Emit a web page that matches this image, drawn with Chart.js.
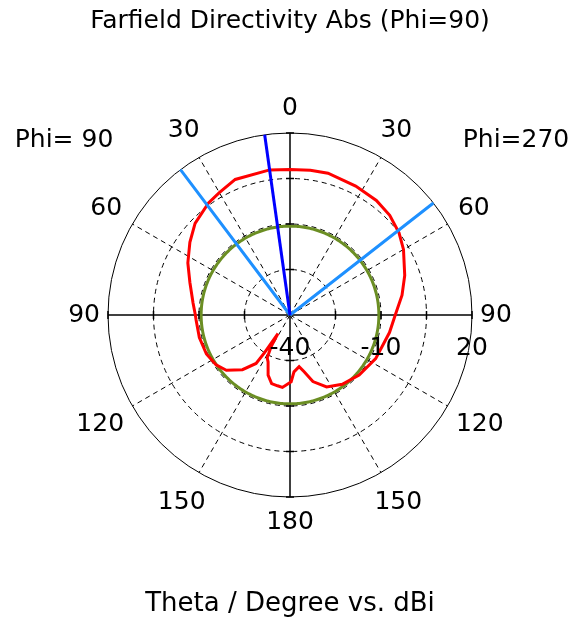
<!DOCTYPE html>
<html>
<head>
<meta charset="utf-8">
<script src="https://cdn.jsdelivr.net/npm/chart.js@4/dist/chart.umd.min.js"></script>
<style>
  html, body { margin: 0; padding: 0; background: #fff; }
  #wrap { width: 572px; height: 625px; }
</style>
</head>
<body>
<div id="wrap"><canvas id="polar" width="572" height="625"></canvas></div>
<script>
// theta labels round the circle, clockwise from the top (Phi=270 on the right, Phi=90 on the left)
const thetaTickAngles = [0, 30, 60, 90, 120, 150, 180, 210, 240, 270, 300, 330];
const thetaTickLabels = ['0', '30', '60', '90', '120', '150', '180', '150', '120', '90', '60', '30'];

// radial axis, dBi
const rMin = -40;
const rMax = 20;
const rStep = 15;
const rTickLabels = [-40, -10, 20];

// red trace: directivity (angle clockwise from top, dBi)
const dirAngle = [0, 8, 15, 27, 37, 45, 53, 60, 71, 80, 90, 100, 117, 131, 143, 153, 161, 166, 170, 176,
  179, 186, 190, 195, 200, 205, 208, 211, 213, 214, 215, 221, 229, 236, 245, 256, 267, 270, 277, 288,
  297, 306, 314, 324, 330, 338, 352];
const dirDbi = [8.0, 8.2, 8.4, 7.7, 7.3, 6.5, 5.0, 3.2, 0.0, -2.5, -5.3, -6.7, -8.3, -9.8, -11.4, -13.4, -16.8, -20.7, -22.7, -21.2,
  -18.0, -16.0, -16.3, -16.6, -18.9, -22.9, -24.0, -28.0, -32.7, -25.0, -20.5, -16.1, -12.2, -10.6, -9.6, -9.2, -9.0, -8.8, -7.8, -5.3,
  -2.2, 0.8, 3.5, 5.7, 6.6, 8.2, 8.3];

const levelDbi = -10.7;          // green circle
const mainLobeAngle = 352;       // dark blue line
const beamEdgeAngles = [52, 323]; // light blue lines

const FONT = '"DejaVu Sans"';
const slots = Array.from({ length: 360 }, (_, i) => i);

function sparse(angles, values) {
  const out = slots.map(() => null);
  angles.forEach((a, k) => { out[a] = values[k]; });
  return out;
}

// a ray from the outer ring to the centre for each angle
function rays(angles) {
  const out = slots.map(() => null);
  angles.forEach(a => {
    out[a] = rMax;
    out[(a + 1) % 360] = rMin;
  });
  return out;
}

const polarText = {
  id: 'polarText',
  afterDraw(chart) {
    const r = chart.scales.r;
    const ctx = chart.ctx;
    const R = r.drawingArea;
    ctx.save();

    // little tick marks on the four axes
    ctx.strokeStyle = '#000';
    ctx.lineWidth = 1.5;
    [0, 90, 180, 270].forEach(a => {
      const t = a * Math.PI / 180;
      for (let v = rMin + rStep; v <= rMax; v += rStep) {
        const p = r.getPointPosition(a, r.getDistanceFromCenterForValue(v));
        ctx.beginPath();
        ctx.moveTo(p.x - 4 * Math.cos(t), p.y - 4 * Math.sin(t));
        ctx.lineTo(p.x + 4 * Math.cos(t), p.y + 4 * Math.sin(t));
        ctx.stroke();
      }
    });

    ctx.font = '25px ' + FONT;
    ctx.fillStyle = '#000';
    ctx.textAlign = 'center';
    ctx.textBaseline = 'middle';

    thetaTickAngles.forEach((a, k) => {
      const text = thetaTickLabels[k];
      const w = ctx.measureText(text).width;
      const t = a * Math.PI / 180;
      const d = R + 8 + Math.abs(Math.sin(t)) * w / 2 + Math.abs(Math.cos(t)) * 17;
      const p = r.getPointPosition(a, d);
      ctx.fillText(text, p.x, p.y);
    });

    rTickLabels.forEach(v => {
      const x = r.xCenter + r.getDistanceFromCenterForValue(v);
      ctx.fillText(String(v), x, r.yCenter + 33);
    });

    ctx.fillText('Phi= 90', r.xCenter - 226, r.yCenter - 175);
    ctx.fillText('Phi=270', r.xCenter + 226, r.yCenter - 175);
    ctx.restore();
  }
};

new Chart(document.getElementById('polar'), {
  type: 'radar',
  data: {
    labels: slots,
    datasets: [
      {
        label: 'main lobe',
        data: rays([mainLobeAngle]),
        borderColor: '#0000ff',
        borderWidth: 3,
        spanGaps: false,
      },
      {
        label: '3 dB angular width',
        data: rays(beamEdgeAngles),
        borderColor: '#1e90ff',
        borderWidth: 3,
        spanGaps: false,
      },
      {
        label: 'directivity',
        data: sparse(dirAngle, dirDbi),
        borderColor: '#ff0000',
        borderWidth: 3,
        spanGaps: true,
      },
      {
        label: 'level',
        data: slots.map(() => levelDbi),
        borderColor: '#6b8e23',
        borderWidth: 3,
      },
    ],
  },
  options: {
    responsive: false,
    animation: false,
    events: [],
    elements: {
      point: { radius: 0, hoverRadius: 0 },
      line: { fill: false, tension: 0 },
    },
    // full width so the titles are not squeezed; the circle size follows the height
    layout: { padding: { left: 8, right: 0, top: 0, bottom: 0 } },
    plugins: {
      legend: { display: false },
      tooltip: { enabled: false },
      title: {
        display: true,
        text: 'Farfield Directivity Abs (Phi=90)',
        color: '#000',
        font: { family: FONT, size: 25, weight: 400 },
        padding: { top: 6, bottom: 97 },
      },
      subtitle: {
        display: true,
        position: 'bottom',
        text: 'Theta / Degree vs. dBi',
        color: '#000',
        font: { family: FONT, size: 26, weight: 400 },
        padding: { top: 91.9, bottom: 4.9 },
      },
    },
    scales: {
      r: {
        min: rMin,
        max: rMax,
        ticks: { display: false, stepSize: rStep },
        pointLabels: { display: false },
        angleLines: {
          color: '#000',
          lineWidth: c => (c.index % 90 === 0 ? 1.5 : (c.index % 30 === 0 ? 1 : 0)),
          borderDash: c => (c.index % 90 === 0 ? [] : [5, 4]),
        },
        grid: { circular: true, color: '#000', lineWidth: 1 },
        border: { dash: c => (c.tick && c.tick.value === rMax ? [] : [5, 4]) },
      },
    },
  },
  plugins: [polarText],
});
</script>
</body>
</html>
